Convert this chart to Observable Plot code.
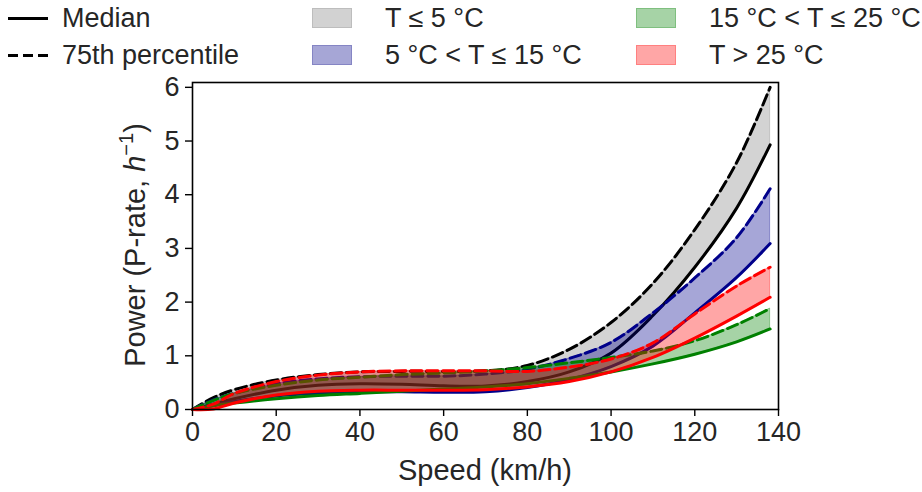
<!DOCTYPE html>
<html>
<head>
<meta charset="utf-8">
<script src="https://cdn.jsdelivr.net/npm/d3@7"></script>
<script src="https://cdn.jsdelivr.net/npm/@observablehq/plot@0.6"></script>
<style>
  body { margin: 0; background: white; }
  #wrap { position: relative; width: 922px; height: 492px; font-family: "Liberation Sans", Arial, sans-serif; color: #262626; font-size: 27px; }
  .lg { position: absolute; display: flex; align-items: center; height: 30px; white-space: nowrap; }
  .sw-line { width: 40px; height: 0; margin-right: 14px; }
  .sw-patch { width: 38px; height: 18px; margin-right: 33px; border: 1.5px solid; }
  #chart { position: absolute; left: 0; top: 72px; }
</style>
</head>
<body>
<div id="wrap">
  <div class="lg" style="left:8px;top:3px"><div class="sw-line" style="border-top:3px solid black"></div><span>Median</span></div>
  <div class="lg" style="left:8px;top:40px"><div class="sw-line" style="height:3px;border:none;background:repeating-linear-gradient(90deg,black 0 10px,transparent 10px 15px)"></div><span>75th percentile</span></div>
  <div class="lg" style="left:312px;top:3px"><div class="sw-patch" style="background:#d2d2d2;border-color:#bdbdbd"></div><span>T ≤ 5 °C</span></div>
  <div class="lg" style="left:312px;top:40px"><div class="sw-patch" style="background:#a6a6d6;border-color:#8585c4"></div><span>5 °C &lt; T ≤ 15 °C</span></div>
  <div class="lg" style="left:636px;top:3px"><div class="sw-patch" style="background:#a6d3a6;border-color:#7fbf7f"></div><span>15 °C &lt; T ≤ 25 °C</span></div>
  <div class="lg" style="left:636px;top:40px"><div class="sw-patch" style="background:#ffa6a6;border-color:#ff8080"></div><span>T &gt; 25 °C</span></div>
  <div id="chart"></div>
</div>
<script>
// Speed grid (km/h)
const speed = [0, 5, 10, 20, 30, 40, 50, 60, 70, 80, 90, 100, 110, 120, 130, 138];

// T ≤ 5 °C
const coldMedian = [0, 0.10, 0.20, 0.36, 0.45, 0.48, 0.47, 0.44, 0.44, 0.52, 0.70, 1.05, 1.75, 2.65, 3.75, 4.93];
const coldP75    = [0, 0.22, 0.37, 0.55, 0.65, 0.70, 0.71, 0.71, 0.72, 0.82, 1.12, 1.62, 2.35, 3.35, 4.60, 6.00];
// 5 °C < T ≤ 15 °C
const mildMedian = [0, 0.07, 0.15, 0.25, 0.30, 0.33, 0.33, 0.32, 0.33, 0.41, 0.56, 0.80, 1.18, 1.80, 2.46, 3.09];
const mildP75    = [0, 0.18, 0.30, 0.48, 0.57, 0.61, 0.62, 0.62, 0.66, 0.75, 0.95, 1.25, 1.80, 2.45, 3.20, 4.11];
// 15 °C < T ≤ 25 °C
const warmMedian = [0, 0.07, 0.12, 0.20, 0.26, 0.30, 0.34, 0.38, 0.42, 0.48, 0.58, 0.70, 0.85, 1.03, 1.26, 1.50];
const warmP75    = [0, 0.17, 0.30, 0.45, 0.55, 0.60, 0.65, 0.68, 0.72, 0.78, 0.87, 0.97, 1.09, 1.28, 1.58, 1.88];
// T > 25 °C
const hotMedian  = [0, 0.01, 0.12, 0.27, 0.34, 0.36, 0.36, 0.36, 0.37, 0.42, 0.52, 0.70, 0.97, 1.33, 1.74, 2.09];
const hotP75     = [0, 0.10, 0.30, 0.52, 0.64, 0.70, 0.72, 0.72, 0.72, 0.71, 0.79, 0.94, 1.24, 1.78, 2.30, 2.65];

const xTicks = [0, 20, 40, 60, 80, 100, 120, 140];
const yTicks = [0, 1, 2, 3, 4, 5, 6];
const xLabel = "Speed (km/h)";

const groups = [
  {median: coldMedian, p75: coldP75, line: "black",   fill: "#808080"},
  {median: mildMedian, p75: mildP75, line: "#00008b", fill: "#00008b"},
  {median: warmMedian, p75: warmP75, line: "#008000", fill: "#008000"},
  {median: hotMedian,  p75: hotP75,  line: "red",     fill: "red"}
];

const marks = [];
for (const g of groups) {
  const rows = speed.map((s, i) => ({s, m: g.median[i], p: g.p75[i]}));
  marks.push(Plot.areaY(rows, {x: "s", y1: "m", y2: "p", fill: g.fill, fillOpacity: 0.35, stroke: g.fill, strokeOpacity: 0.35, strokeWidth: 1, curve: "catmull-rom"}));
  marks.push(Plot.line(rows, {x: "s", y: "m", stroke: g.line, strokeWidth: 3, curve: "catmull-rom"}));
  marks.push(Plot.line(rows, {x: "s", y: "p", stroke: g.line, strokeWidth: 3, strokeDasharray: "11,5", curve: "catmull-rom"}));
}

const svg = Plot.plot({
  width: 922,
  height: 420,
  marginLeft: 192,
  marginRight: 144,
  marginTop: 10,
  marginBottom: 83,
  x: {domain: [0, 140]},
  y: {domain: [0, 6.09]},
  style: {fontFamily: "'Liberation Sans', Arial, sans-serif", fontSize: "27px", color: "#262626", background: "white", overflow: "visible"},
  marks: [
    ...marks,
    Plot.frame({stroke: "black", strokeWidth: 1.6}),
    Plot.axisX({ticks: xTicks, tickSize: 7, tickPadding: 5, tickFormat: d => String(d), fontSize: 27, label: null, stroke: "black", strokeWidth: 1.4, fill: "#262626"}),
    Plot.axisY({ticks: yTicks, tickSize: 7, tickPadding: 6, tickFormat: d => String(d), fontSize: 27, label: null, stroke: "black", strokeWidth: 1.4, fill: "#262626"})
  ]
});
document.getElementById("chart").appendChild(svg);

const sel = d3.select(svg);
sel.append("text")
  .attr("x", 485).attr("y", 408)
  .attr("text-anchor", "middle")
  .attr("fill", "#262626")
  .style("font-size", "29px")
  .text(xLabel);

const yl = sel.append("text")
  .attr("transform", "translate(145,173) rotate(-90)")
  .attr("text-anchor", "middle")
  .attr("fill", "#262626")
  .style("font-size", "29px");
yl.append("tspan").text("Power (P-rate, ");
yl.append("tspan").attr("font-style", "italic").text("h");
yl.append("tspan").attr("dy", -12).style("font-size", "20px").text("−1");
yl.append("tspan").attr("dy", 12).text(")");
</script>
</body>
</html>
